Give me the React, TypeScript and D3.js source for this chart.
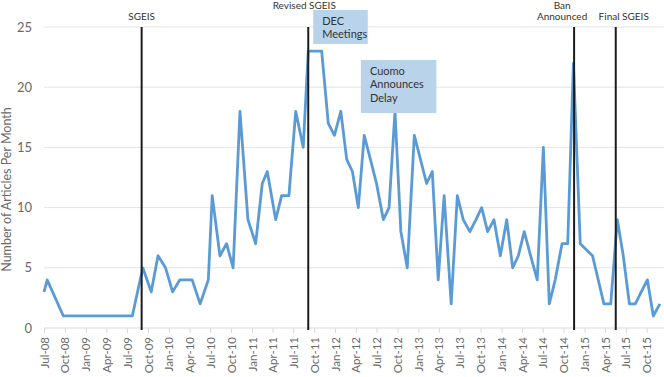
import React, { useEffect, useRef } from "react";
import * as d3 from "d3";

// monthly article counts (date of each observation, count)
const obsDates = [
  "2008-07-01", "2008-07-15", "2008-09-24", "2009-07-24", "2009-09-08", "2009-10-15",
  "2009-11-14", "2009-12-17", "2010-01-17", "2010-02-18", "2010-04-13", "2010-05-18",
  "2010-06-23", "2010-07-10", "2010-08-13", "2010-09-11", "2010-10-10", "2010-11-09",
  "2010-12-14", "2011-01-17", "2011-02-15", "2011-03-09", "2011-04-15", "2011-05-11",
  "2011-06-12", "2011-07-12", "2011-08-14", "2011-09-05", "2011-11-03", "2011-12-02",
  "2011-12-29", "2012-01-26", "2012-02-21", "2012-03-17", "2012-04-12", "2012-05-08",
  "2012-06-04", "2012-07-01", "2012-07-31", "2012-08-25", "2012-09-20", "2012-10-16",
  "2012-11-13", "2012-12-14", "2013-01-10", "2013-02-06", "2013-03-03", "2013-03-29",
  "2013-04-24", "2013-05-25", "2013-06-21", "2013-07-17", "2013-08-15", "2013-09-11",
  "2013-10-06", "2013-11-01", "2013-11-29", "2013-12-27", "2014-01-24", "2014-02-19",
  "2014-03-16", "2014-04-11", "2014-05-09", "2014-06-07", "2014-07-04", "2014-07-30",
  "2014-08-25", "2014-09-24", "2014-10-19", "2014-11-13", "2014-12-13", "2015-02-05",
  "2015-03-27", "2015-04-26", "2015-05-25", "2015-06-20", "2015-07-17", "2015-08-12",
  "2015-09-07", "2015-10-04", "2015-10-30", "2015-11-28",
];
const articleCounts = [
  3, 4, 1, 1, 5, 3,
  6, 5, 3, 4, 4, 2,
  4, 11, 6, 7, 5, 18,
  9, 7, 12, 13, 9, 11,
  11, 18, 15, 23, 23, 17,
  16, 18, 14, 13, 10, 16,
  14, 12, 9, 10, 18, 8,
  5, 16, 14, 12, 13, 4,
  11, 2, 11, 9, 8, 9,
  10, 8, 9, 6, 9, 5,
  6, 8, 6, 4, 15, 2,
  4, 7, 7, 22, 7, 6,
  2, 2, 9, 6, 2, 2,
  3, 4, 1, 2,
];

// policy milestones drawn as vertical rules
const eventDates = ["2009-09-03", "2011-09-05", "2014-11-16", "2015-05-18"];
const eventLabels = [["SGEIS"], ["Revised SGEIS"], ["Ban", "Announced"], ["Final SGEIS"]];

// callout boxes
const calloutLines = [["DEC", "Meetings"], ["Cuomo", "Announces", "Delay"]];

const yTicks = [0, 5, 10, 15, 20, 25];

const W = 664;
const H = 377;
const FONT = "Lato, 'Open Sans', sans-serif";

export default function App() {
  const ref = useRef<SVGSVGElement>(null);

  useEffect(() => {
    const svg = d3.select(ref.current);
    svg.selectAll("*").remove();

    const parse = d3.timeParse("%Y-%m-%d");
    const data = obsDates.map((d, i) => ({ t: parse(d) as Date, c: articleCounts[i] }));

    const left = 44;
    const x = d3
      .scaleTime()
      .domain([parse("2008-07-01") as Date, parse("2015-10-01") as Date])
      .range([left, 646.7]);
    const y = d3.scaleLinear().domain([0, 25]).range([328, 27]);

    // gridlines
    svg
      .append("g")
      .selectAll("line")
      .data(yTicks.filter((t) => t > 0))
      .join("line")
      .attr("x1", left)
      .attr("x2", W)
      .attr("y1", (d) => y(d))
      .attr("y2", (d) => y(d))
      .attr("stroke", "#e3e3e3")
      .attr("stroke-width", 1);

    // y labels
    svg
      .append("g")
      .selectAll("text")
      .data(yTicks)
      .join("text")
      .attr("x", 32)
      .attr("y", (d) => y(d))
      .attr("dy", "0.35em")
      .attr("text-anchor", "end")
      .attr("font-family", FONT)
      .attr("font-size", 13)
      .attr("fill", "#6a6a6a")
      .text((d) => d);

    svg
      .append("text")
      .attr("transform", `translate(11,${(y(0) + y(25)) / 2 + 12}) rotate(-90)`)
      .attr("text-anchor", "middle")
      .attr("font-family", FONT)
      .attr("font-size", 12.5)
      .attr("fill", "#6a6a6a")
      .text("Number of Articles Per Month");

    // x axis
    const xAxis = d3
      .axisBottom(x)
      .tickValues(d3.timeMonth.every(3)!.range(x.domain()[0], d3.timeDay.offset(x.domain()[1], 1)))
      .tickSize(5)
      .tickSizeOuter(0)
      .tickFormat(d3.timeFormat("%b-%y") as any);

    const gx = svg.append("g").attr("transform", `translate(0,${y(0)})`).call(xAxis);
    gx.select(".domain").attr("stroke", "#d9d9d9").attr("d", `M${left},0H${W}`);
    gx.selectAll(".tick line").attr("stroke", "#d9d9d9");
    gx.selectAll(".tick text")
      .attr("transform", "rotate(-90)")
      .attr("x", -9)
      .attr("y", 0)
      .attr("dy", "0.35em")
      .attr("text-anchor", "end")
      .attr("font-family", FONT)
      .attr("font-size", 11.5)
      .attr("fill", "#6a6a6a");

    // series
    const line = d3
      .line<{ t: Date; c: number }>()
      .x((d) => x(d.t))
      .y((d) => y(d.c));

    svg
      .append("path")
      .attr("d", line(data))
      .attr("fill", "none")
      .attr("stroke", "#5b9bd5")
      .attr("stroke-width", 2.8)
      .attr("stroke-linejoin", "round");

    // event rules and their labels
    eventDates.forEach((ed, i) => {
      const ex = x(parse(ed) as Date);
      svg
        .append("line")
        .attr("x1", ex)
        .attr("x2", ex)
        .attr("y1", y(25))
        .attr("y2", y(0) + 2)
        .attr("stroke", "#1c1c1c")
        .attr("stroke-width", 2);
      const lines = eventLabels[i];
      const offsetX = i === 1 ? -4 : i === 2 ? -12 : i === 3 ? 8 : 0;
      lines.forEach((s, j) => {
        const baseY = i === 1 ? 9 : i === 2 ? 8.5 + j * 11.5 : 20;
        svg
          .append("text")
          .attr("x", ex + offsetX)
          .attr("y", baseY)
          .attr("text-anchor", "middle")
          .attr("font-family", FONT)
          .attr("font-size", 10)
          .attr("fill", "#333")
          .text(s);
      });
    });

    // callouts anchored at the DEC meetings and the Cuomo delay
    const callouts = [
      { t: parse("2011-09-05") as Date, top: 10, w: 54.5, h: 34 },
      { t: parse("2012-06-04") as Date, top: 60, w: 75.5, h: 53 },
    ];
    callouts.forEach((c, i) => {
      const bx = x(c.t) + (i === 0 ? 5 : -9.5);
      svg
        .append("rect")
        .attr("x", bx)
        .attr("y", c.top)
        .attr("width", c.w)
        .attr("height", c.h)
        .attr("fill", "#b9d3eb");
      calloutLines[i].forEach((s, j) => {
        svg
          .append("text")
          .attr("x", bx + 9)
          .attr("y", c.top + 14.5 + j * 13.8)
          .attr("font-family", FONT)
          .attr("font-size", 11)
          .attr("fill", "#333")
          .text(s);
      });
    });
  }, []);

  return (
    <div>
      <style>{`body{margin:0}`}</style>
      <svg ref={ref} width={W} height={H} style={{ display: "block", background: "#fff" }} />
    </div>
  );
}
